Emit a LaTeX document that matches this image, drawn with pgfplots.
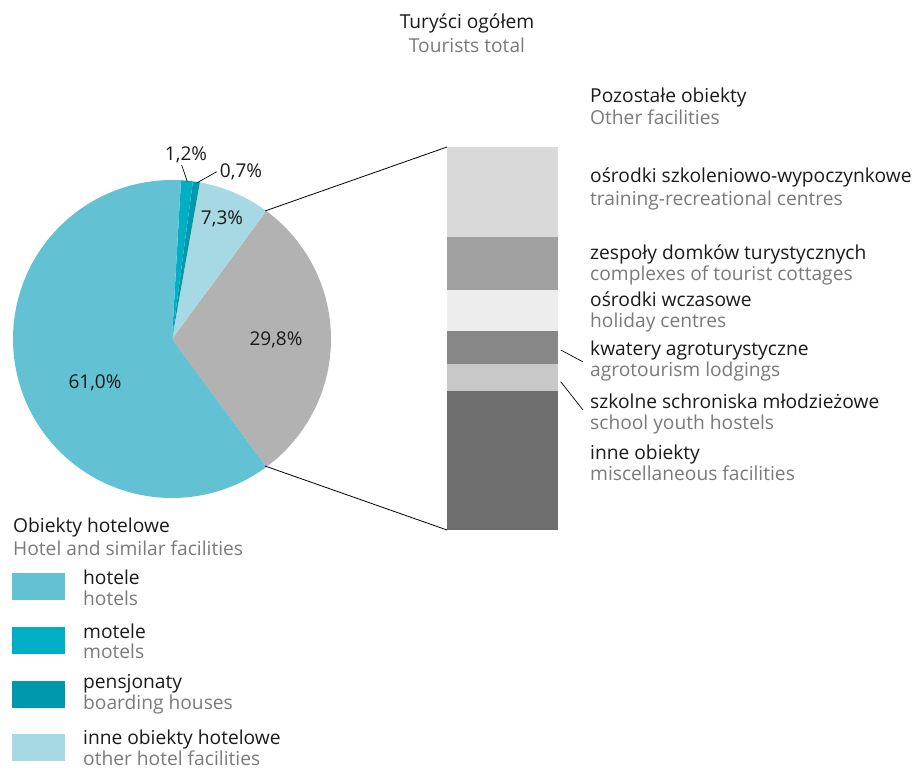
\documentclass[border=0pt]{standalone}
\usepackage{pgfplots}
\pgfplotsset{compat=1.18}
\usepackage{fontspec}
\setmainfont{Open Sans}

\definecolor{hot}{HTML}{62C2D4}
\definecolor{mot}{HTML}{00AFC6}
\definecolor{pen}{HTML}{0098AD}
\definecolor{inn}{HTML}{A6D9E3}
\definecolor{poz}{HTML}{B2B2B2}
\definecolor{bA}{HTML}{D9D9D9}
\definecolor{bB}{HTML}{A0A0A0}
\definecolor{bC}{HTML}{EDEDED}
\definecolor{bD}{HTML}{878787}
\definecolor{bE}{HTML}{C8C8C8}
\definecolor{bF}{HTML}{6E6E6E}
\definecolor{txt}{HTML}{1A1A1A}
\definecolor{gry}{HTML}{7A7A7A}

\tikzset{
  bl/.style={anchor=base west, inner sep=0pt, text=txt, font=\fontsize{19.2}{23}\selectfont},
  gr/.style={bl, text=gry},
  lab/.style={anchor=center, inner sep=0pt, text=txt, font=\fontsize{19}{23}\selectfont},
}

\begin{document}
\begin{tikzpicture}[x=1pt,y=1pt]
% shares of all tourists, %
\def\pHot{61.0}\def\pMot{1.2}\def\pPen{0.7}\def\pInn{7.3}\def\pPoz{29.8}
\pgfmathsetmacro\aA{-\pPoz*1.8}
\pgfmathsetmacro\aB{\pPoz*1.8}
\pgfmathsetmacro\aC{\aB+\pInn*3.6}
\pgfmathsetmacro\aD{\aC+\pPen*3.6}
\pgfmathsetmacro\aE{\aD+\pMot*3.6}
\pgfmathsetmacro\aF{\aE+\pHot*3.6}

\begin{axis}[at={(0,0)}, anchor=south west, width=919pt, height=771pt,
  scale only axis, hide axis, clip=false,
  xmin=0, xmax=919, ymin=0, ymax=771, y dir=reverse]
 % pie slices (centre 172,339, radius 159)
 \addplot[fill=poz, draw=none, domain=\aA:\aB, samples=80] ({172+159*cos(x)},{339-159*sin(x)}) -- (172,339) -- cycle;
 \addplot[fill=inn, draw=none, domain=\aB:\aC, samples=30] ({172+159*cos(x)},{339-159*sin(x)}) -- (172,339) -- cycle;
 \addplot[fill=pen, draw=none, domain=\aC:\aD, samples=5] ({172+159*cos(x)},{339-159*sin(x)}) -- (172,339) -- cycle;
 \addplot[fill=mot, draw=none, domain=\aD:\aE, samples=5] ({172+159*cos(x)},{339-159*sin(x)}) -- (172,339) -- cycle;
 \addplot[fill=hot, draw=none, domain=\aE:\aF, samples=150] ({172+159*cos(x)},{339-159*sin(x)}) -- (172,339) -- cycle;

 % legend boxes
 \addplot[fill=hot, draw=none] coordinates {(12,573)(65,573)(65,600)(12,600)} -- cycle;
 \addplot[fill=mot, draw=none] coordinates {(12,627)(65,627)(65,654)(12,654)} -- cycle;
 \addplot[fill=pen, draw=none] coordinates {(12,681)(65,681)(65,708)(12,708)} -- cycle;
 \addplot[fill=inn, draw=none] coordinates {(12,734)(65,734)(65,761)(12,761)} -- cycle;

 % connectors and leaders
 \draw[black, line width=0.8pt] (265,211) -- (447,147);
 \draw[black, line width=0.8pt] (265,466) -- (447,530);
 \draw[black, line width=0.7pt] (181.7,165) -- (187.3,181.7);
 \draw[black, line width=0.7pt] (216.7,171.7) -- (197.3,182.7);
 \draw[black, line width=0.7pt] (560.7,350) -- (582.7,361.7);
 \draw[black, line width=0.7pt] (560.7,381.7) -- (583,410);

 % pie labels
 \node[lab] at (95,383) {61,0\%};
 \node[lab] at (276,340) {29,8\%};
 \node[lab] at (222,219) {7,3\%};
 \node[lab] at (186,155) {1,2\%};
 \node[lab] at (241,172) {0,7\%};

 % bar labels
 \node[lab] at (502,192) {7,0\%};
 \node[lab] at (502,265) {4,1\%};
 \node[lab] at (502,311) {3,2\%};
 \node[lab] at (502,349) {2,6\%};
 \node[lab] at (502,379) {2,1\%};
 \node[lab] at (502,463) {10,8\%};

 % titles
 \node[bl, anchor=base] at (467,28) {Turyści ogółem};
 \node[gr, anchor=base] at (467,52) {Tourists total};

 \node[bl] at (590,102) {Pozostałe obiekty};
 \node[gr] at (590,124) {Other facilities};
 \node[bl] at (590,182) {ośrodki szkoleniowo-wypoczynkowe};
 \node[gr] at (590,205) {training-recreational centres};
 \node[bl] at (590,259) {zespoły domków turystycznych};
 \node[gr] at (590,280) {complexes of tourist cottages};
 \node[bl] at (590,306) {ośrodki wczasowe};
 \node[gr] at (590,327) {holiday centres};
 \node[bl] at (590,355) {kwatery agroturystyczne};
 \node[gr] at (590,376) {agrotourism lodgings};
 \node[bl] at (590,408) {szkolne schroniska młodzieżowe};
 \node[gr] at (590,429) {school youth hostels};
 \node[bl] at (590,459) {inne obiekty};
 \node[gr] at (590,480) {miscellaneous facilities};

 \node[bl] at (13,532) {Obiekty hotelowe};
 \node[gr] at (13,555) {Hotel and similar facilities};
 \node[bl] at (83,584) {hotele};
 \node[gr] at (83,605) {hotels};
 \node[bl] at (83,638) {motele};
 \node[gr] at (83,658) {motels};
 \node[bl] at (83,688) {pensjonaty};
 \node[gr] at (83,709) {boarding houses};
 \node[bl] at (83,744) {inne obiekty hotelowe};
 \node[gr] at (83,765) {other hotel facilities};
\end{axis}

% stacked bar of "other facilities" (bottom to top)
\begin{axis}[at={(447pt,241pt)}, anchor=south west, width=111pt, height=383pt,
  scale only axis, hide axis, ybar stacked, bar width=111pt,
  xmin=-0.5, xmax=0.5, ymin=0, ymax=29.8]
 \addplot[fill=bF, draw=none] coordinates {(0,10.8)};
 \addplot[fill=bE, draw=none] coordinates {(0,2.1)};
 \addplot[fill=bD, draw=none] coordinates {(0,2.6)};
 \addplot[fill=bC, draw=none] coordinates {(0,3.2)};
 \addplot[fill=bB, draw=none] coordinates {(0,4.1)};
 \addplot[fill=bA, draw=none] coordinates {(0,7.0)};
\end{axis}

\pgfresetboundingbox
\path (0,0) rectangle (919,771);
\end{tikzpicture}
\end{document}
